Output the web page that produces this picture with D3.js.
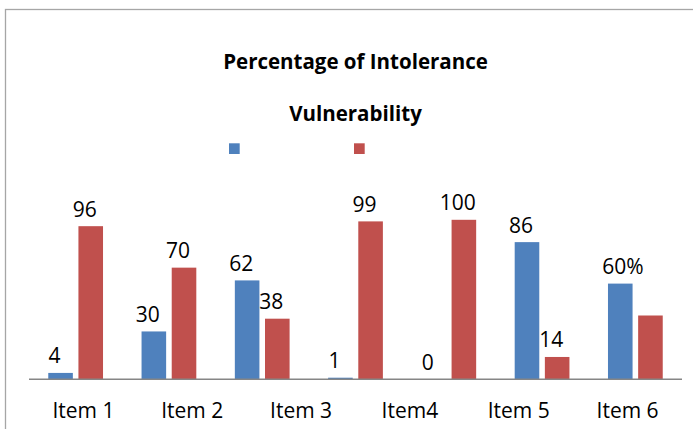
<!DOCTYPE html>
<html>
<head>
<meta charset="utf-8">
<script src="https://cdn.jsdelivr.net/npm/d3@7"></script>
<style>
  html, body { margin: 0; padding: 0; background: #ffffff; }
  svg { display: block; }
  text { font-family: "Open Sans", "Noto Sans", sans-serif; fill: #000; }
</style>
</head>
<body>
<svg id="chart" width="693" height="429"></svg>
<script>
// Bar groups (seven), category labels on the axis (six), and the two series
const groups = ["g1", "g2", "g3", "g4", "g5", "g6", "g7"];
const axisLabels = ["Item 1", "Item 2", "Item 3", "Item4", "Item 5", "Item 6"];
const blueValues = [4, 30, 62, 1, 0, 86, 60];
const redValues = [96, 70, 38, 99, 100, 14, 40];
const blueLabels = ["4", "30", "62", "1", "0", "86", "60%"];
const redLabels = ["96", "70", "38", "99", "100", "14", ""];
const titleLines = ["Percentage of Intolerance", "Vulnerability"];
const seriesKeys = ["blue", "red"];
const seriesColors = { blue: "#4F81BD", red: "#C0504D" };

const svg = d3.select("#chart");

// Outer chart frame (right and bottom edges run off the canvas)
svg.append("rect")
  .attr("x", 5.5).attr("y", 9.5)
  .attr("width", 720).attr("height", 440)
  .attr("fill", "none")
  .attr("stroke", "#a6a6a6")
  .attr("stroke-width", 1.3);

const plotLeft = 29, plotRight = 682, baseY = 379.3;

const x0 = d3.scaleBand()
  .domain(groups)
  .range([plotLeft, plotRight])
  .paddingInner(0.413)
  .paddingOuter(0.2065);

const x1 = d3.scaleBand()
  .domain(seriesKeys)
  .range([0, x0.bandwidth()])
  .paddingInner(0.185)
  .paddingOuter(0);

const y = d3.scaleLinear().domain([0, 100]).range([baseY, 219.8]);

const xLabels = d3.scaleBand()
  .domain(axisLabels)
  .range([plotLeft, plotRight]);

// Title
svg.append("text")
  .attr("x", 355.5).attr("y", 69)
  .attr("text-anchor", "middle")
  .attr("font-weight", "bold")
  .attr("font-size", 20.5)
  .text(titleLines[0]);
svg.append("text")
  .attr("x", 355.5).attr("y", 120.5)
  .attr("text-anchor", "middle")
  .attr("font-weight", "bold")
  .attr("font-size", 20.5)
  .text(titleLines[1]);

// Legend swatches
const legendX = d3.scaleOrdinal().domain(seriesKeys).range([229, 354]);
svg.selectAll("rect.legend")
  .data(seriesKeys)
  .join("rect")
  .attr("class", "legend")
  .attr("x", d => legendX(d))
  .attr("y", 143.3)
  .attr("width", 10.7).attr("height", 10.7)
  .attr("fill", d => seriesColors[d]);

// Bars
const rows = groups.map((g, i) => ({
  g,
  items: [
    { key: "blue", value: blueValues[i], label: blueLabels[i] },
    { key: "red", value: redValues[i], label: redLabels[i] }
  ]
}));

const gGroups = svg.selectAll("g.grp")
  .data(rows)
  .join("g")
  .attr("class", "grp")
  .attr("transform", d => `translate(${x0(d.g)},0)`);

gGroups.selectAll("rect")
  .data(d => d.items)
  .join("rect")
  .attr("x", d => x1(d.key))
  .attr("y", d => y(d.value))
  .attr("width", x1.bandwidth())
  .attr("height", d => y(0) - y(d.value))
  .attr("fill", d => seriesColors[d.key]);

// Value labels: centred a little left of each bar; a "%" suffix trails the number
const labelOffset = -6;
gGroups.each(function(d) {
  const grp = d3.select(this);
  d.items.forEach(item => {
    if (!item.label) return;
    const cx = x1(item.key) + x1.bandwidth() / 2 + labelOffset;
    const ty = y(item.value) - 9.5;
    const m = item.label.match(/^(\d+)(%?)$/);
    const num = m ? m[1] : item.label;
    const suffix = m ? m[2] : "";
    const t = grp.append("text")
      .attr("x", cx).attr("y", ty)
      .attr("text-anchor", "middle")
      .attr("font-size", 21)
      .text(num);
    if (suffix) {
      const w = t.node().getComputedTextLength();
      t.attr("text-anchor", "start").attr("x", cx - w / 2);
      t.append("tspan").text(suffix);
    }
  });
});

// Category axis
svg.append("line")
  .attr("x1", plotLeft).attr("x2", plotRight)
  .attr("y1", baseY).attr("y2", baseY)
  .attr("stroke", "#868686")
  .attr("stroke-width", 1.5);

svg.selectAll("text.cat")
  .data(axisLabels)
  .join("text")
  .attr("class", "cat")
  .attr("x", d => xLabels(d) + xLabels.bandwidth() / 2)
  .attr("y", 418.3)
  .attr("text-anchor", "middle")
  .attr("font-size", 21)
  .text(d => d);
</script>
</body>
</html>
